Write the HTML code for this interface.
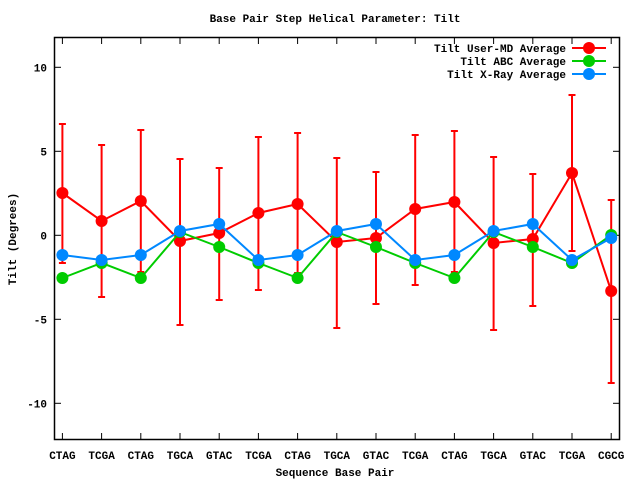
<!DOCTYPE html>
<html><head><meta charset="utf-8"><style>body{margin:0;background:#fff}svg{display:block}text{font-family:"Liberation Mono",monospace;font-size:11px;font-weight:bold;fill:#000}</style></head><body>
<svg id="s" width="640" height="480" xmlns="http://www.w3.org/2000/svg">
<rect x="54.5" y="37.5" width="565" height="402" fill="none" stroke="#000" stroke-width="1.5"/>
<g id="g"></g>
<text x="335" y="22" text-anchor="middle">Base Pair Step Helical Parameter: Tilt</text>
<text x="335" y="476" text-anchor="middle">Sequence Base Pair</text>
<text transform="translate(16,239) rotate(-90)" text-anchor="middle">Tilt (Degrees)</text>
<text x="566" y="52" text-anchor="end">Tilt User-MD Average</text>
<text x="566" y="65" text-anchor="end">Tilt ABC Average</text>
<text x="566" y="78" text-anchor="end">Tilt X-Ray Average</text>
<line x1="572" y1="48" x2="606" y2="48" stroke="#f00" stroke-width="2"/><circle cx="589" cy="48" r="6" fill="#f00"/>
<line x1="572" y1="61" x2="606" y2="61" stroke="#0c0" stroke-width="2"/><circle cx="589" cy="61" r="6" fill="#0c0"/>
<line x1="572" y1="74" x2="606" y2="74" stroke="#08f" stroke-width="2"/><circle cx="589" cy="74" r="6" fill="#08f"/>
</svg>
<script>
var g=document.getElementById('g'),h='';
var X=i=>62.4+i*39.2;
var labs=['CTAG','TCGA','CTAG','TGCA','GTAC','TCGA','CTAG','TGCA','GTAC','TCGA','CTAG','TGCA','GTAC','TCGA','CGCG'];
labs.forEach((l,i)=>{var x=X(i);h+=`<line x1="${x}" y1="439" x2="${x}" y2="433" stroke="#000"/><line x1="${x}" y1="38" x2="${x}" y2="44" stroke="#000"/><text x="${x}" y="459" text-anchor="middle">${l}</text>`});
[[10,67.3],[5,151.3],[0,235.3],[-5,319.3],[-10,403.3]].forEach(t=>{h+=`<line x1="55" y1="${t[1]}" x2="61" y2="${t[1]}" stroke="#000"/><line x1="619" y1="${t[1]}" x2="613" y2="${t[1]}" stroke="#000"/><text x="47" y="${t[1]+4}" text-anchor="end">${t[0]}</text>`});
var r=[193,221,201,241,233,213,204,242,238,209,202,243,239,173,291];
var et=[124,145,130,159,168,137,133,158,172,135,131,157,174,95,200];
var eb=[263,297,272,325,300,290,273,328,304,285,272,330,306,251,383];
var gr=[278,263,278,232,247,263,278,232,247,263,278,232,247,263,235];
var bl=[255,260,255,231,224,260,255,231,224,260,255,231,224,260,238];
function ser(a,c){var p=a.map((y,i)=>X(i)+','+y).join(' ');var s=`<polyline points="${p}" fill="none" stroke="${c}" stroke-width="2"/>`;a.forEach((y,i)=>s+=`<circle cx="${X(i)}" cy="${y}" r="6" fill="${c}"/>`);return s;}
r.forEach((y,i)=>{var x=X(i);h+=`<line x1="${x}" y1="${et[i]}" x2="${x}" y2="${eb[i]}" stroke="#f00" stroke-width="2"/><line x1="${x-3.5}" y1="${et[i]}" x2="${x+3.5}" y2="${et[i]}" stroke="#f00" stroke-width="2"/><line x1="${x-3.5}" y1="${eb[i]}" x2="${x+3.5}" y2="${eb[i]}" stroke="#f00" stroke-width="2"/>`});
h+=ser(r,'#f00')+ser(gr,'#0c0')+ser(bl,'#08f');
g.innerHTML=h;
</script>
</body></html>
